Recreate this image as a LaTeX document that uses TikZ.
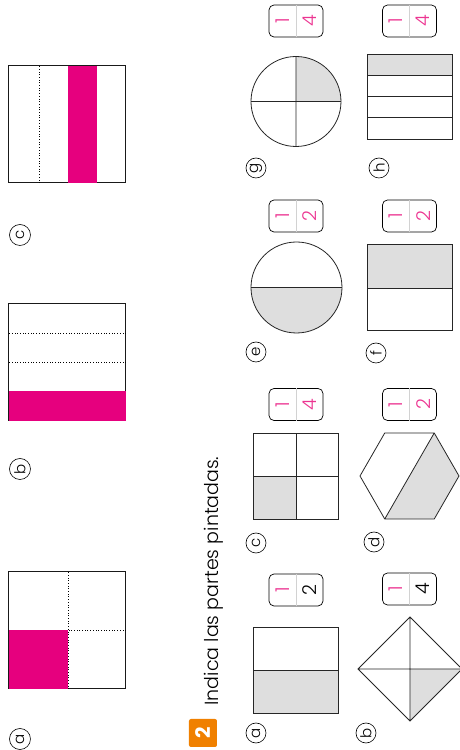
\documentclass[tikz,border=0pt]{standalone}
\usepackage{fontspec}
\setmainfont{Poppins}
\newfontfamily\lightfont{Poppins Light}
\usepackage{tikz}
\usetikzlibrary{positioning,calc}
\definecolor{Magenta}{RGB}{230,0,126}
\definecolor{PinkNum}{RGB}{236,52,145}
\definecolor{ShadeGray}{RGB}{222,222,222}
\definecolor{BadgeOrange}{RGB}{240,128,0}
\definecolor{SepGray}{RGB}{210,210,210}

\begin{document}
\begin{tikzpicture}[
    x=1pt, y=1pt,
    lbl/.style={circle, draw, line width=0.6pt, minimum size=20pt, inner sep=0pt,
                font=\lightfont\fontsize{15}{15}\selectfont},
    fracbox/.style={rectangle, rounded corners=5pt, draw, line width=0.7pt,
                    minimum width=32pt, minimum height=54pt, inner sep=0pt},
    num/.style={font=\lightfont\fontsize{19}{19}\selectfont, text=#1, inner sep=0pt},
    num/.default=PinkNum,
    part/.style={draw=black!85, line width=0.8pt},
    outer/.style={draw=black!90, line width=1pt},
    fold/.style={dotted, line width=0.7pt},
    shade/.style={fill=ShadeGray},
]
\useasboundingbox (-459,0) rectangle (0,750);

\begin{scope}[rotate=90, transform shape]

% ── Top row: coloured squares ──
\node[lbl, minimum size=21pt] (la) at (11,439) {a};
\draw[outer] (61,333) rectangle (178,450);
\draw[fold] (120,333) -- (120,450) (61,391) -- (178,391);
\fill[Magenta] (61,391) rectangle (120,450);

\node[lbl, minimum size=21pt] (lb) at (281,439) {b};
\draw[outer] (329,333) rectangle (446,450);
\draw[fold] (359,333) -- (359,450) (388,333) -- (388,450) (417,333) -- (417,450);
\fill[Magenta] (329,333) rectangle (359,450);

\node[lbl, minimum size=21pt] (lc) at (515,439) {c};
\draw[outer] (567,333) rectangle (684,450);
\draw[fold] (567,420) -- (684,420) (567,391) -- (684,391);
\fill[Magenta] (567,362) rectangle (684,391);

% ── Exercise heading ──
\node[fill=BadgeOrange, rounded corners=2pt, minimum size=28pt, inner sep=0pt,
      text=white, font=\fontsize{20}{20}\selectfont\bfseries] (badge) at (17,256) {2};
\node[anchor=base west, font=\lightfont\fontsize{19}{19}\selectfont] (title) at (41,240)
    {Indica las partes pintadas.};

% ── a: rectangle in halves ──
\node[lbl] (pa) at (17,203) {a};
\fill[shade] (37,121) rectangle (80,206);
\draw[part] (37,121) rectangle (123,206) (80,121) -- (80,206);

% ── b: diamond in quarters ──
\node[lbl] (pb) at (17,93) {b};
\fill[shade] (81,49) -- (29,49) -- (81,-3) -- cycle;
\draw[part] (29,49) -- (81,101) -- (133,49) -- (81,-3) -- cycle
    (29,49) -- (133,49) (81,101) -- (81,-3);

% ── c: square in quarters ──
\node[lbl] (pc) at (207,203) {c};
\fill[shade] (231,163) rectangle (274,206);
\draw[part] (231,121) rectangle (317,206) (274,121) -- (274,206) (231,163) -- (317,163);

% ── d: hexagon in halves ──
\node[lbl] (pd) at (208,85) {d};
\fill[shade] (317,24.75) -- (274,0) -- (231,24.75) -- (231,74.25) -- cycle;
\draw[part] (274,99) -- (317,74.25) -- (317,24.75) -- (274,0) -- (231,24.75)
    -- (231,74.25) -- cycle (317,24.75) -- (231,74.25);

% ── e: circle in halves ──
\node[lbl] (pe) at (398,203) {e};
\fill[shade] (462.5,117) arc (-90:-270:45.5) -- cycle;
\draw[part] (462.5,162.5) circle (45.5) (462.5,117) -- (462.5,208);

% ── f: rectangle in halves ──
\node[lbl] (pf) at (397,83) {f};
\fill[shade] (462,7) rectangle (506,92);
\draw[part] (420,7) rectangle (506,92) (462,7) -- (462,92);

% ── g: circle in quarters ──
\node[lbl] (pg) at (582,203) {g};
\fill[shade] (648.5,163) -- (693.5,163) arc (0:-90:45) -- cycle;
\draw[part] (648.5,163) circle (45) (603.5,163) -- (693.5,163) (648.5,118) -- (648.5,208);

% ── h: rectangle in strips ──
\node[lbl] (ph) at (582,80) {h};
\fill[shade] (674.75,7) rectangle (696,92);
\draw[part] (611,7) rectangle (696,92) (632.25,7) -- (632.25,92)
    (653.5,7) -- (653.5,92) (674.75,7) -- (674.75,92);

% ── Answer boxes ──
\node[fracbox] (fa) at (160,163) {};
\draw[SepGray, line width=0.6pt] (fa.west) -- (fa.east);
\node[num] at ($(fa.center)!0.5!(fa.north)$) {1};
\node[num=black] at ($(fa.center)!0.5!(fa.south)$) {2};

\node[fracbox] (fb) at (161,49.5) {};
\draw[SepGray, line width=0.6pt] (fb.west) -- (fb.east);
\node[num] at ($(fb.center)!0.5!(fb.north)$) {1};
\node[num=black] at ($(fb.center)!0.5!(fb.south)$) {4};

\node[fracbox] (fc) at (345.5,163) {};
\draw[SepGray, line width=0.6pt] (fc.west) -- (fc.east);
\node[num] at ($(fc.center)!0.5!(fc.north)$) {1};
\node[num] at ($(fc.center)!0.5!(fc.south)$) {4};

\node[fracbox] (fd) at (345.5,49.5) {};
\draw[SepGray, line width=0.6pt] (fd.west) -- (fd.east);
\node[num] at ($(fd.center)!0.5!(fd.north)$) {1};
\node[num] at ($(fd.center)!0.5!(fd.south)$) {2};

\node[fracbox] (fe) at (534,163) {};
\draw[SepGray, line width=0.6pt] (fe.west) -- (fe.east);
\node[num] at ($(fe.center)!0.5!(fe.north)$) {1};
\node[num] at ($(fe.center)!0.5!(fe.south)$) {2};

\node[fracbox] (ff) at (534,49.5) {};
\draw[SepGray, line width=0.6pt] (ff.west) -- (ff.east);
\node[num] at ($(ff.center)!0.5!(ff.north)$) {1};
\node[num] at ($(ff.center)!0.5!(ff.south)$) {2};

\node[fracbox] (fg) at (729,163) {};
\draw[SepGray, line width=0.6pt] (fg.west) -- (fg.east);
\node[num] at ($(fg.center)!0.5!(fg.north)$) {1};
\node[num] at ($(fg.center)!0.5!(fg.south)$) {4};

\node[fracbox] (fh) at (729,49.5) {};
\draw[SepGray, line width=0.6pt] (fh.west) -- (fh.east);
\node[num] at ($(fh.center)!0.5!(fh.north)$) {1};
\node[num] at ($(fh.center)!0.5!(fh.south)$) {4};

\end{scope}
\end{tikzpicture}
\end{document}
